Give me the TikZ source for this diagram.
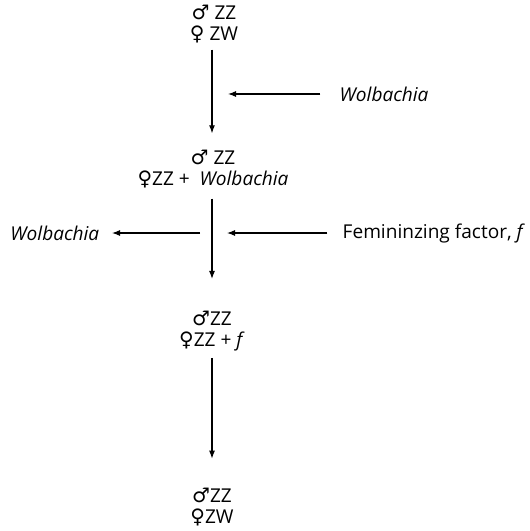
\documentclass[tikz,border=0pt]{standalone}
\usepackage{fontspec}
\setmainfont{Open Sans}
\newfontfamily\symfont{DejaVu Sans}
\usetikzlibrary{arrows.meta}
\usetikzlibrary{positioning}
\tikzstyle{arrow} = [-{Latex[length=6pt,width=4.5pt]}, line width=0.8pt]
\tikzstyle{gen} = [align=center, inner sep=2pt]
\newcommand{\malesym}{{\symfont\fontsize{15}{15}\selectfont ♂}}
\newcommand{\femsym}{{\symfont\fontsize{15}{15}\selectfont ♀}}

\begin{document}
\begin{tikzpicture}[x=0.75pt,y=-0.75pt,font=\fontsize{14.3}{15.5}\selectfont]
            \useasboundingbox (0,0) rectangle (530,531);
            \coordinate (axis) at (212,0);
            \node (gen0) [gen] at (214,24) {\malesym\ ZZ\\\femsym\ ZW};
            \node (gen1) [gen] at (213,169) {\malesym\ ZZ\\\femsym ZZ + \ \textit{Wolbachia}};
            \node (gen2) [gen] at (212,331) {\malesym ZZ\\\femsym ZZ + \textit{f}};
            \node (gen3) [gen] at (212,507) {\malesym ZZ\\\femsym ZW};
            \draw [arrow, shorten <=3pt, shorten >=10.5pt] (gen0.south -| axis) -- (gen1.north -| axis);
            \draw [arrow, shorten <=6pt, shorten >=22pt] (gen1.south -| axis) -- (gen2.north -| axis);
            \draw [arrow, shorten <=3pt, shorten >=20pt] (gen2.south -| axis) -- (gen3.north -| axis);

            % side effects
            \node (wolbin) [anchor=west] at (335,94) {\textit{Wolbachia}};
            \node (femf) [anchor=west] at (338,233) {Femininzing factor, \textit{f}};
            \node (wolbout) [anchor=east] at (104,233) {\textit{Wolbachia}};
            \coordinate (in1) at (228,94);
            \coordinate (in2) at (227,233);
            \coordinate (out1) at (200,233);
            \draw [arrow] ([xshift=-11]wolbin.west) -- (in1);
            \draw [arrow] ([xshift=-8]femf.west) -- (in2);
            \draw [arrow] (out1) -- ([xshift=6]wolbout.east);
        \end{tikzpicture}
\end{document}
